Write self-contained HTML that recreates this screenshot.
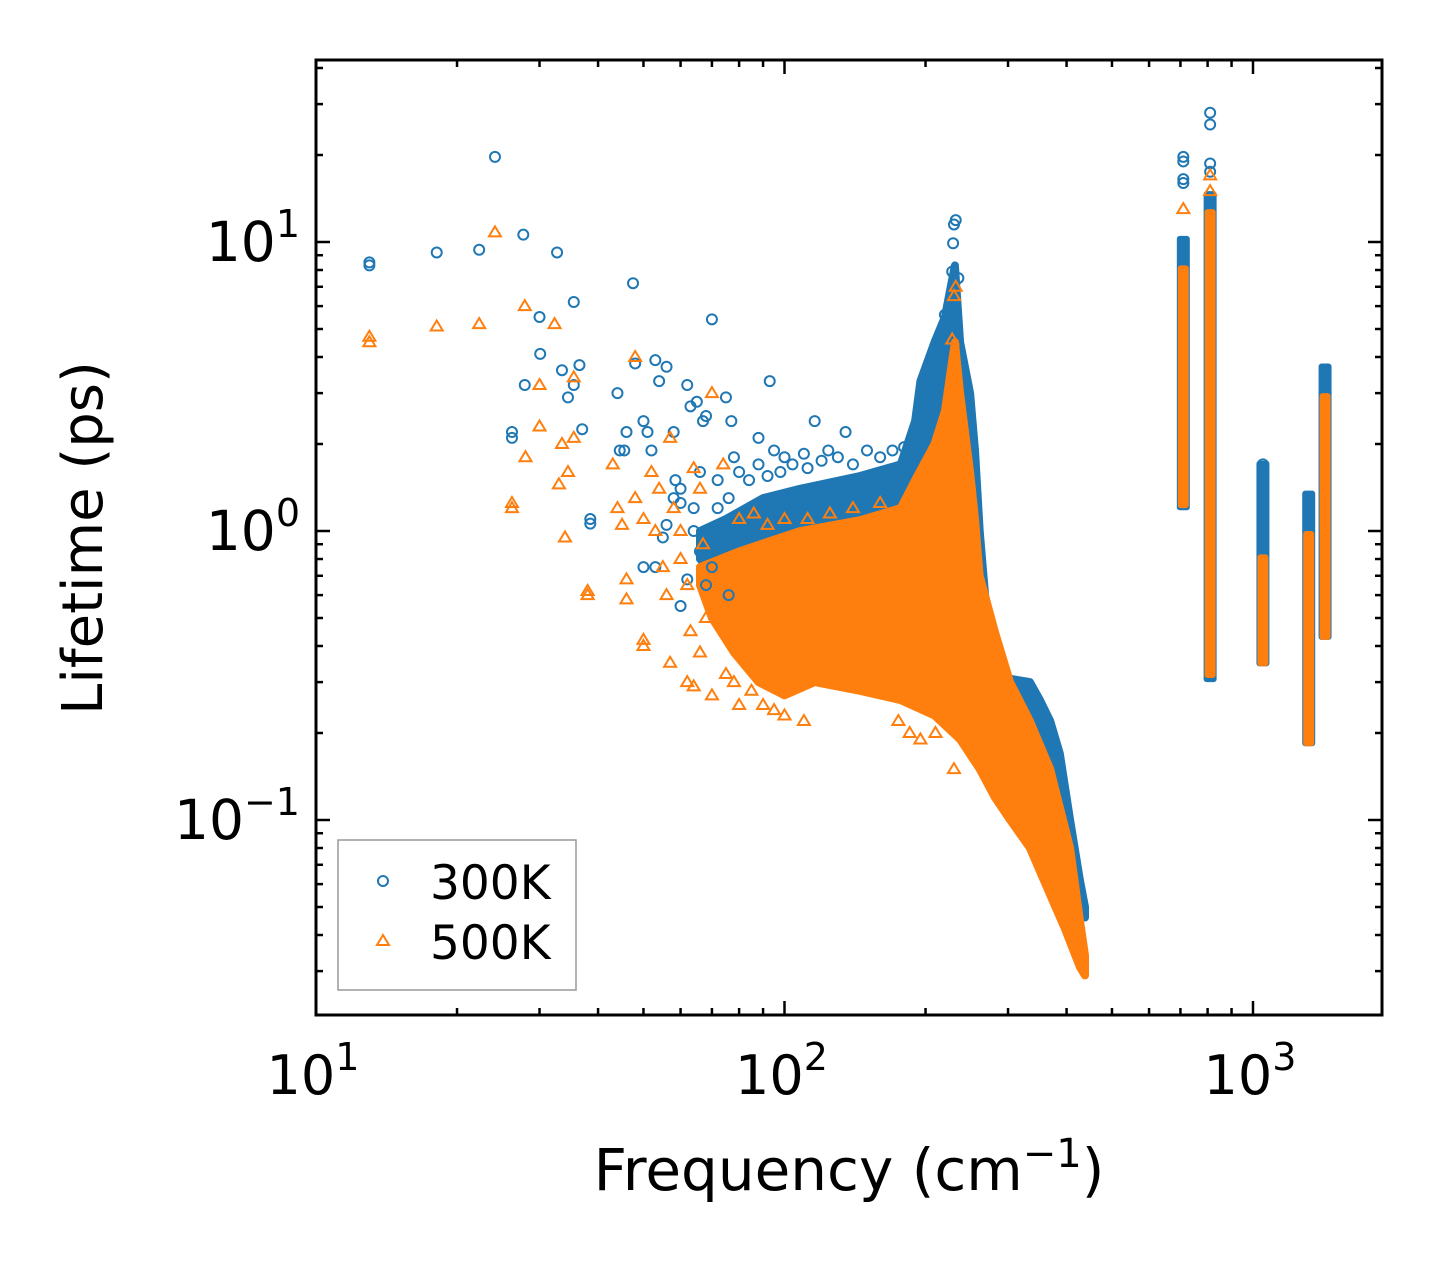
<!DOCTYPE html>
<html><head><meta charset="utf-8"><style>
html,body{margin:0;padding:0;background:#fff;}
svg{display:block;font-family:"DejaVu Sans","Liberation Sans",sans-serif;}
</style></head><body>
<svg id="chart" width="1442" height="1265" viewBox="0 0 1442 1265" xmlns="http://www.w3.org/2000/svg">
<rect x="0" y="0" width="1442" height="1265" fill="#fff"/>
<g id="clouds"></g>
<g id="pts"></g>
<g id="axes"></g>
<text x="849" y="1190" font-size="58" text-anchor="middle">Frequency (cm<tspan dy="-23" font-size="40">−1</tspan><tspan dy="23">)</tspan></text>
<text transform="translate(102,538) rotate(-90)" font-size="56" text-anchor="middle">Lifetime (ps)</text>
<g>
<rect x="338" y="840" width="238" height="150" fill="#fff" stroke="#999" stroke-width="1.5"/>
<circle cx="383" cy="881" r="5" fill="none" stroke="#1f77b4" stroke-width="2"/>
<text x="430" y="899" font-size="47">300K</text>
<path d="M383,935 L389,945 L377,945 Z" fill="none" stroke="#ff7f0e" stroke-width="2"/>
<text x="430" y="959" font-size="47">500K</text>
</g>
</svg>
<script>
// ---- data ----
const blueTop=[[66,1.0],[75,1.1],[90,1.3],[108,1.4],[145,1.55],[177,1.7],[190,2.4],[195,3.3],[209,4.5],[220,5.5],[231,8.3],[237,4.5],[249,3],[255,1.9],[261,1.0],[268,0.6],[281,0.38],[296,0.31],[334,0.30],[351,0.26],[369,0.22],[387,0.17],[407,0.1],[427,0.062],[438,0.05]];
const blueBottom=[[438,0.046],[427,0.06],[387,0.085],[351,0.12],[318,0.16],[288,0.22],[261,0.33],[209,0.4],[145,0.45],[108,0.5],[80,0.55],[66,0.8]];
const orangeTop=[[66,0.75],[80,0.85],[108,1.0],[145,1.09],[177,1.2],[190,1.5],[209,2.0],[220,2.6],[231,4.5],[237,3.0],[249,1.6],[255,1.1],[261,0.7],[281,0.45],[303,0.3],[334,0.22],[369,0.15],[407,0.08],[427,0.045],[438,0.034]];
const orangeBottom=[[438,0.029],[427,0.031],[397,0.042],[369,0.055],[334,0.08],[303,0.1],[281,0.12],[261,0.15],[237,0.19],[209,0.23],[177,0.26],[145,0.28],[116,0.3],[100,0.27],[88,0.3],[78,0.38],[70,0.5],[66,0.65]];
// high-frequency bands: [freq, top, bottom]
const blueBands=[[710,10.5,1.18],[810,15,0.3],[1050,1.75,0.34],[1315,1.38,0.18],[1425,3.8,0.42]];
const orangeBands=[[710,8.3,1.2],[810,13,0.31],[1050,0.83,0.34],[1315,1.0,0.18],[1425,3.0,0.42]];
const bluePts=[[13,8.3],[13,8.5],[18.1,9.2],[22.3,9.4],[24.1,19.7],[27.7,10.6],[32.7,9.2],[30,5.5],[30.1,4.1],[27.9,3.2],[33.5,3.6],[34.5,2.9],[35.5,3.2],[35.5,6.2],[36.5,3.75],[37,2.25],[26.2,2.2],[26.2,2.1],[38.5,1.1],[38.5,1.06],[44,3],[44.5,1.9],[45.5,1.9],[46,2.2],[47.5,7.2],[48,3.8],[50,2.4],[51,2.2],[52,1.9],[53,3.9],[54,3.3],[56,3.7],[58,2.2],[58.5,1.5],[62,3.2],[63,2.7],[64,1.2],[65,2.8],[67,2.4],[68,2.5],[70,5.4],[72,1.2],[75,2.9],[77,2.4],[78,1.8],[88,2.1],[93,3.3],[95,1.9],[100,1.8],[110,1.85],[116,2.4],[124,1.9],[135,2.2],[150,1.9],[170,1.9],[232,11.9],[230,11.5],[229,9.9],[228,7.9],[235,7.5],[220,5.6],[212,3.3],[53,0.75],[50,0.75],[55,0.95],[60,0.55],[62,0.68],[68,0.65],[66,0.85],[70,0.75],[58,1.3],[56,1.05],[60,1.4],[66,1.6],[72,1.5],[76,1.3],[72,0.9],[76,0.6],[78,1.0],[80,1.6],[84,1.5],[88,1.7],[92,1.55],[98,1.6],[104,1.7],[112,1.65],[120,1.75],[130,1.8],[140,1.7],[160,1.8],[180,1.95],[60,1.25],[64,1.0],[710,19.7],[710,19],[710,16.5],[710,16],[810,28],[810,25.5],[810,18.7],[810,17.5],[1050,1.7],[1425,3.6]];
const orangePts=[[13,4.7],[13,4.5],[18.1,5.1],[22.3,5.2],[24.1,10.8],[27.9,6],[32.3,5.2],[26.2,1.2],[26.2,1.25],[28,1.8],[30,3.2],[30,2.3],[33,1.45],[33.5,2.0],[34.5,1.6],[35.5,2.1],[35.5,3.4],[34,0.95],[38,0.62],[38,0.6],[43,1.7],[44,1.2],[45,1.05],[46,0.68],[46,0.58],[48,4.0],[48,1.3],[50,0.4],[50,0.42],[52,1.6],[53,1.0],[55,0.75],[56,0.6],[57,0.35],[60,0.8],[62,0.3],[63,0.45],[64,0.29],[66,0.38],[68,0.5],[70,0.27],[70,3.0],[72,0.55],[74,1.7],[75,0.32],[76,0.45],[78,0.3],[80,0.25],[85,0.28],[90,0.25],[95,0.24],[100,0.23],[110,0.22],[175,0.22],[185,0.2],[195,0.19],[210,0.2],[230,0.15],[64,1.65],[66,1.4],[58,1.2],[57,2.1],[60,1.0],[54,1.4],[50,1.1],[67,0.9],[62,0.65],[80,1.1],[86,1.15],[92,1.05],[100,1.1],[112,1.1],[125,1.15],[140,1.2],[160,1.25],[232,7],[230,6.5],[228,4.6],[810,17],[810,15],[710,13]];
const xTicks=[10,100,1000];
const yTicks=[0.1,1,10];
// ---- scales ----
const X0=316,X1=1382,Y0=60,Y1=1015,DEC=468.5,YDEC=289;
const xs=f=>X0+DEC*(Math.log10(f)-1);
const ys=v=>531-YDEC*Math.log10(v);
const NS='http://www.w3.org/2000/svg';
function mk(tag,attrs,parent){const e=document.createElementNS(NS,tag);for(const k in attrs)e.setAttribute(k,attrs[k]);parent.appendChild(e);return e;}
const clouds=document.getElementById('clouds'),pts=document.getElementById('pts'),axes=document.getElementById('axes');
function poly(top,bot,color,name){
  const d=top.concat(bot).map((p,i)=>(i?'L':'M')+xs(p[0]).toFixed(1)+','+ys(p[1]).toFixed(1)).join('')+'Z';
  const e=mk('path',{d:d,fill:color,stroke:color,'stroke-width':8,'stroke-linejoin':'round'},clouds);
  
  
}
function bands(arr,color,w,name){arr.forEach(b=>{
  const e=mk('rect',{x:xs(b[0])-w/2,y:ys(b[1]),width:w,height:ys(b[2])-ys(b[1]),fill:color,rx:3},clouds);
  
  
});}
poly(blueTop,blueBottom,'#1f77b4','cloud-300k');
bands(blueBands,'#1f77b4',13,'band-300k');
poly(orangeTop,orangeBottom,'#ff7f0e','cloud-500k');
bands(orangeBands,'#ff7f0e',11,'band-500k');
bluePts.forEach(p=>{
  const e=mk('circle',{cx:xs(p[0]),cy:ys(p[1]),r:5,fill:'none',stroke:'#1f77b4','stroke-width':2},pts);
  
  
});
orangePts.forEach(p=>{
  const x=xs(p[0]),y=ys(p[1]);
  const e=mk('path',{d:`M${x},${y-6}L${x+6},${y+4}L${x-6},${y+4}Z`,fill:'none',stroke:'#ff7f0e','stroke-width':2},pts);
  
  
});
// frame
const fr=mk('rect',{x:X0,y:Y0,width:X1-X0,height:Y1-Y0,fill:'none',stroke:'#000','stroke-width':3},axes);


function tick(x1,y1,x2,y2){const e=mk('line',{x1,y1,x2,y2,stroke:'#000','stroke-width':2.5},axes);
  
  }
for(let d=10;d<=1000;d*=10){for(let m=1;m<10;m++){const f=d*m;const x=xs(f);if(x<X0-1||x>X1)continue;const L=m===1?14:7;tick(x,Y1,x,Y1-L);tick(x,Y0,x,Y0+L);}}
for(let d=0.01;d<=10.1;d*=10){for(let m=1;m<10;m++){const v=d*m;const y=ys(v);if(y>Y1||y<Y0)continue;const L=m===1?14:7;tick(X0,y,X0+L,y);tick(X1,y,X1-L,y);}}
xTicks.forEach(t=>{const e=mk('text',{x:xs(t)-3,y:1094,'font-size':54,'text-anchor':'middle'},axes);
  
  
  e.innerHTML='10<tspan dy="-24" font-size="38">'+Math.round(Math.log10(t))+'</tspan>';});
yTicks.forEach(t=>{const ex=Math.round(Math.log10(t));const e=mk('text',{x:300,y:ys(t)+19,'font-size':55,'text-anchor':'end'},axes);
  
  
  e.innerHTML='10<tspan dy="-24" font-size="38">'+(ex<0?'−'+(-ex):ex)+'</tspan>';});
</script>
</body></html>
